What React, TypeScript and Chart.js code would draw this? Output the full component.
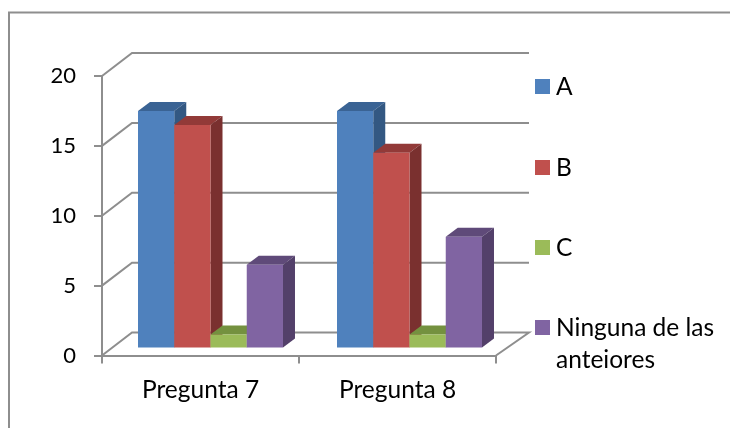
import React, { useEffect, useRef } from "react";
import { Chart, registerables } from "chart.js";

Chart.register(...registerables);

const categories = ["Pregunta 7", "Pregunta 8"];
const seriesNames = ["A", "B", "C", "Ninguna de las anteiores"];
const seriesA = [17, 17];
const seriesB = [16, 14];
const seriesC = [1, 1];
const seriesD = [6, 8];
const yTicks = [0, 5, 10, 15, 20];

const frontColors = ["#4F81BD", "#C0504D", "#9BBB59", "#8064A2"];
const topColors = ["#3A6394", "#923A38", "#74913F", "#5F4A79"];
const sideColors = ["#335882", "#7A302F", "#667F38", "#53406A"];

const FONT = "Lato, Carlito, 'Open Sans', sans-serif";
const TEXT_SIZE = 24.5;
const DIGIT_SIZE = 22;
const GREY = "#8E8E8E";

const shiftX = 10;
const shiftY = -7;
const groupShift = 2;
const depthX = 12;
const depthY = -9;

const poly = (ctx: CanvasRenderingContext2D, pts: number[][], fill: string) => {
  ctx.beginPath();
  pts.forEach((p, i) => (i ? ctx.lineTo(p[0], p[1]) : ctx.moveTo(p[0], p[1])));
  ctx.closePath();
  ctx.fillStyle = fill;
  ctx.fill();
};

const threeD = {
  id: "threeD",
  beforeDraw(chart: any) {
    const { ctx, width, height } = chart;
    ctx.save();
    ctx.fillStyle = "#fff";
    ctx.fillRect(0, 0, width, height);
    ctx.strokeStyle = GREY;
    ctx.lineWidth = 2;
    ctx.beginPath();
    ctx.moveTo(9, height);
    ctx.lineTo(9, 12.5);
    ctx.lineTo(width, 12.5);
    ctx.stroke();
    ctx.restore();
  },
  beforeDatasetsDraw(chart: any) {
    const { ctx, chartArea, scales } = chart;
    const { left, right } = chartArea;
    ctx.save();
    ctx.strokeStyle = GREY;
    ctx.lineWidth = 2;
    for (const v of yTicks) {
      const y = scales.y.getPixelForValue(v);
      ctx.beginPath();
      ctx.moveTo(left, y);
      ctx.lineTo(left + 30, y - 23);
      ctx.lineTo(right + 33, y - 23);
      if (v === 0) ctx.lineTo(right, y);
      ctx.stroke();
    }
    ctx.restore();
    // Series are painted A to D so each bar's front covers the side of the one before it.
    chart.data.datasets.forEach((_: any, i: number) => {
      chart.getDatasetMeta(i).data.forEach((el: any, j: number) => {
        const l = el.x - el.width / 2;
        const r = el.x + el.width / 2;
        const t = el.y;
        const b = el.base;
        ctx.save();
        ctx.translate(shiftX + j * groupShift, shiftY);
        poly(ctx, [[l, t], [r, t], [r + depthX, t + depthY], [l + depthX, t + depthY]], topColors[i]);
        poly(ctx, [[r, t], [r + depthX, t + depthY], [r + depthX, b + depthY], [r, b]], sideColors[i]);
        el.draw(ctx);
        ctx.restore();
      });
    });
  },
  beforeDatasetDraw() {
    return false;
  },
  afterDraw(chart: any) {
    const { ctx } = chart;
    ctx.save();
    ctx.font = `${TEXT_SIZE}px ${FONT}`;
    ctx.textBaseline = "middle";
    const tops = [79, 160, 240, 320];
    chart.data.datasets.forEach((ds: any, i: number) => {
      const top = tops[i];
      ctx.fillStyle = frontColors[i];
      ctx.fillRect(535, top, 15, 15);
      ctx.fillStyle = "#000";
      const lines: string[] = [];
      let cur = "";
      for (const w of String(ds.label).split(" ")) {
        const next = cur ? cur + " " + w : w;
        if (ctx.measureText(next).width > 170 && cur) {
          lines.push(cur);
          cur = w;
        } else cur = next;
      }
      lines.push(cur);
      lines.forEach((ln, k) => ctx.fillText(ln, 556, top + 8 + k * 32));
    });
    ctx.restore();
  },
};

export default function App() {
  const ref = useRef<HTMLCanvasElement>(null);
  useEffect(() => {
    const values = [seriesA, seriesB, seriesC, seriesD];
    const chart = new Chart(ref.current as HTMLCanvasElement, {
      type: "bar",
      data: {
        labels: categories,
        datasets: seriesNames.map((label, i) => ({
          label,
          data: values[i],
          backgroundColor: frontColors[i],
          borderWidth: 0,
          barPercentage: 1,
          categoryPercentage: 0.736,
        })),
      },
      options: {
        animation: false,
        responsive: false,
        devicePixelRatio: 1,
        layout: { padding: { left: 10, top: 76, right: 234, bottom: 22.5 } },
        plugins: { legend: { display: false }, tooltip: { enabled: false } },
        scales: {
          x: {
            afterFit: (s: any) => { s.height = 50; },
            grid: { offset: true, drawOnChartArea: false, color: GREY, tickLength: 8, lineWidth: 2 },
            border: { color: GREY, width: 2 },
            ticks: { color: "#000", font: { family: FONT, size: TEXT_SIZE }, padding: 12, maxRotation: 0 },
          },
          y: {
            min: 0,
            max: 20,
            afterFit: (s: any) => { s.width = 92; },
            afterBuildTicks: (s: any) => { s.ticks = yTicks.map((value) => ({ value })); },
            grid: { drawOnChartArea: false, color: GREY, tickLength: 8, lineWidth: 2 },
            border: { color: GREY, width: 2 },
            ticks: { color: "#000", font: { family: FONT, size: DIGIT_SIZE }, padding: 18 },
          },
        },
      },
      plugins: [threeD],
    } as any);
    return () => chart.destroy();
  }, []);
  return (
    <div style={{ position: "fixed", left: 0, top: 0, width: 730, height: 428, background: "#fff" }}>
      <canvas ref={ref} width={730} height={428} style={{ display: "block", width: 730, height: 428 }} />
    </div>
  );
}
